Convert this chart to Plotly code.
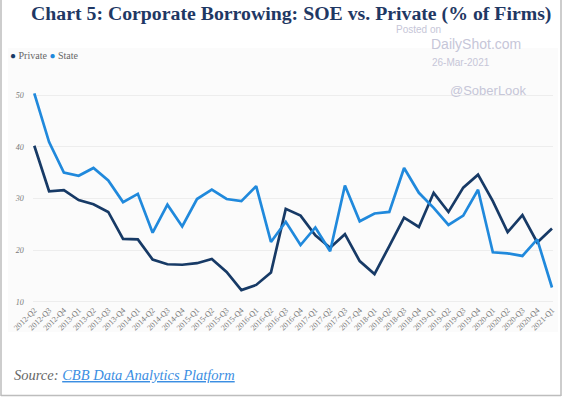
import plotly.graph_objects as go

quarters = ["2012-Q2", "2012-Q3", "2012-Q4",
            "2013-Q1", "2013-Q2", "2013-Q3", "2013-Q4",
            "2014-Q1", "2014-Q2", "2014-Q3", "2014-Q4",
            "2015-Q1", "2015-Q2", "2015-Q3", "2015-Q4",
            "2016-Q1", "2016-Q2", "2016-Q3", "2016-Q4",
            "2017-Q1", "2017-Q2", "2017-Q3", "2017-Q4",
            "2018-Q1", "2018-Q2", "2018-Q3", "2018-Q4",
            "2019-Q1", "2019-Q2", "2019-Q3", "2019-Q4",
            "2020-Q1", "2020-Q2", "2020-Q3", "2020-Q4",
            "2021-Q1"]

private = [40.2, 31.4, 31.6, 29.7, 28.9, 27.4, 22.2, 22.1, 18.2, 17.3, 17.2,
           17.5, 18.3, 15.8, 12.3, 13.3, 15.7, 28.0, 26.7, 22.9, 20.5, 23.1,
           17.9, 15.4, 20.8, 26.3, 24.5, 31.1, 27.4, 32.1, 34.6, 29.5, 23.5,
           26.8, 21.5, 24.2]

state = [50.3, 40.9, 35.0, 34.4, 35.9, 33.5, 29.3, 30.9, 23.4, 28.8, 24.6,
         29.9, 31.7, 29.9, 29.5, 32.4, 21.6, 25.5, 21.0, 24.4, 19.8, 32.5,
         25.6, 27.1, 27.4, 35.9, 31.1, 28.2, 24.9, 26.7, 31.7, 19.6, 19.4,
         18.9, 22.1, 12.8]

y_ticks = [10, 20, 30, 40, 50]

W, H = 564, 397
NAVY = "#173a66"
BLUE = "#2089dc"
SERIF = "Liberation Serif"

xs = list(range(len(quarters)))

fig = go.Figure()
fig.add_trace(go.Scatter(x=xs, y=private, mode="lines", name="Private",
                         line=dict(color=NAVY, width=2.7), showlegend=False))
fig.add_trace(go.Scatter(x=xs, y=state, mode="lines", name="State",
                         line=dict(color=BLUE, width=2.7), showlegend=False))

def px_x(p):
    return p / W

def px_y(p):
    return 1 - p / H

# pixel mapping
x0_px, x35_px = 34.3, 552.0
upx = (x35_px - x0_px) / 35
xr = [-0.1, 35.1]
dom_x = [px_x(x0_px + xr[0] * upx), px_x(x0_px + xr[1] * upx)]

y10_px, y50_px = 302.0, 95.0
upy = (y10_px - y50_px) / 40
yr = [9.8, 51.0]
dom_y = [px_y(y10_px + (10 - yr[0]) * upy), px_y(y50_px - (yr[1] - 50) * upy)]

fig.update_layout(
    width=W, height=H,
    margin=dict(l=0, r=0, t=0, b=0, autoexpand=False),
    paper_bgcolor="white",
    plot_bgcolor="rgba(0,0,0,0)",
    xaxis=dict(domain=dom_x, range=xr, tickmode="array", tickvals=xs,
               ticktext=quarters, tickangle=-45, showgrid=False, zeroline=False,
               showline=False, ticks="", automargin=False,
               tickfont=dict(family=SERIF, size=8, color="#7a7a7a")),
    yaxis=dict(domain=dom_y, range=yr, tickmode="array", tickvals=y_ticks,
               ticktext=[str(v) for v in y_ticks], showgrid=True,
               gridcolor="#ededed", gridwidth=1, zeroline=False, showline=False,
               ticks="", ticklabelstandoff=8, automargin=False,
               tickfont=dict(family=SERIF, size=8, color="#7a7a7a", style="italic")),
    shapes=[
        dict(type="rect", xref="paper", yref="paper",
             x0=px_x(8), x1=px_x(558), y0=px_y(332), y1=px_y(48),
             fillcolor="#fbfbfb", line=dict(width=0), layer="below"),
        dict(type="line", xref="paper", yref="paper",
             x0=px_x(1), x1=px_x(1), y0=px_y(396), y1=1,
             line=dict(color="#bdbdbd", width=1.5)),
        dict(type="line", xref="paper", yref="paper",
             x0=px_x(561), x1=px_x(561), y0=px_y(396), y1=1,
             line=dict(color="#bdbdbd", width=1.5)),
        dict(type="line", xref="paper", yref="paper",
             x0=px_x(1), x1=px_x(561), y0=px_y(395.5), y1=px_y(395.5),
             line=dict(color="#bdbdbd", width=1.5)),
    ],
    annotations=[
        dict(text="Chart 5: Corporate Borrowing: SOE vs. Private (% of Firms)",
             xref="paper", yref="paper", x=px_x(553), y=px_y(13.5),
             xanchor="right", yanchor="middle", showarrow=False,
             font=dict(family=SERIF, size=19.8, color="#1f3864", weight="bold")),
        dict(text=f"<span style='color:{NAVY}'>●</span> Private "
                  f"<span style='color:{BLUE}'>●</span> State",
             xref="paper", yref="paper", x=px_x(8), y=px_y(56),
             xanchor="left", yanchor="middle", showarrow=False,
             font=dict(family=SERIF, size=10, color="#666666")),
        dict(text="Posted on", xref="paper", yref="paper", x=px_x(418), y=px_y(29.5),
             xanchor="center", yanchor="middle", showarrow=False,
             font=dict(family="Liberation Sans", size=10, color="#c6c6d8")),
        dict(text="DailyShot.com", xref="paper", yref="paper", x=px_x(476), y=px_y(44),
             xanchor="center", yanchor="middle", showarrow=False,
             font=dict(family="Liberation Sans", size=14, color="#c6c6d8")),
        dict(text="26-Mar-2021", xref="paper", yref="paper", x=px_x(461), y=px_y(62),
             xanchor="center", yanchor="middle", showarrow=False,
             font=dict(family="Liberation Sans", size=10, color="#c6c6d8")),
        dict(text="@SoberLook", xref="paper", yref="paper", x=px_x(488), y=px_y(90),
             xanchor="center", yanchor="middle", showarrow=False,
             font=dict(family="Liberation Sans", size=13, color="#c6c6d8")),
        dict(text="<span style='color:#666666'>Source: </span>"
                  "<span style='color:#3b8ee2'><u>CBB Data Analytics Platform</u></span>",
             xref="paper", yref="paper", x=px_x(12), y=px_y(375),
             xanchor="left", yanchor="middle", showarrow=False,
             font=dict(family=SERIF, size=14.5, style="italic")),
    ],
)

fig.write_html("out.html",
               config={"displayModeBar": False},
               post_script="document.body.style.margin='0';"
                           "document.body.style.overflow='hidden';")
